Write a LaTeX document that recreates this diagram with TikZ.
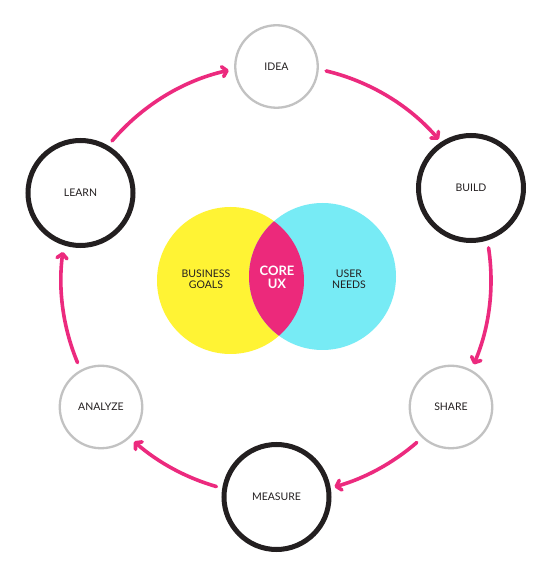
\documentclass[tikz,border=0pt]{standalone}
\usepackage{fontspec}
\setmainfont{Lato}
\usetikzlibrary{arrows.meta,calc}
\definecolor{ink}{HTML}{231F20}
\definecolor{ringgray}{HTML}{C2C2C2}
\definecolor{pinkarrow}{HTML}{EC2A7E}
\definecolor{venny}{HTML}{FFF334}
\definecolor{vennc}{HTML}{77EBF5}
\definecolor{vennm}{HTML}{EC297B}
\begin{document}
\begin{tikzpicture}[x=1pt,y=1pt,
  lightstep/.style={circle,draw=ringgray,line width=2.3pt,minimum size=82.5pt,inner sep=0pt,
    font=\fontsize{10.5}{12}\selectfont,text=ink},
  heavystep/.style={circle,draw=ink,line width=5pt,minimum size=105pt,inner sep=0pt,
    font=\fontsize{10.5}{12}\selectfont,text=ink},
  cyclearrow/.style={draw=pinkarrow,line width=3.6pt,line cap=round,
    -{Straight Barb[length=4.5pt,width=10pt,line cap=round,line join=round]}},
  venntext/.style={align=center,font=\fontsize{10.5}{11}\selectfont,text=ink},
  coretext/.style={align=center,font=\fontsize{13}{13}\selectfont\bfseries,text=white}
]
\useasboundingbox (0,0) rectangle (551,574);
\fill[white] (0,0) rectangle (551,574);

% Venn diagram
\coordinate (yc) at (230.5,293.5);
\coordinate (cc) at (322.5,297.5);
\fill[venny] (yc) circle[radius=73.5];
\fill[vennc] (cc) circle[radius=73.5];
\begin{scope}
  \clip (yc) circle[radius=73.5];
  \fill[vennm] (cc) circle[radius=73.5];
\end{scope}
\node[venntext] (goals) at (206,295) {BUSINESS\\GOALS};
\node[coretext] (core) at (277,297) {CORE\\UX};
\node[venntext] (needs) at (349,295) {USER\\NEEDS};

% Cycle nodes
\node[lightstep] (idea) at (276.5,507.5) {IDEA};
\node[heavystep] (build) at (471,386) {BUILD};
\node[lightstep] (share) at (451,167) {SHARE};
\node[heavystep] (measure) at (276.5,77) {MEASURE};
\node[lightstep] (analyze) at (101,167) {ANALYZE};
\node[heavystep] (learn) at (80.5,381) {LEARN};

% Arrows along a circle of radius 215 around the centre
\coordinate (ctr) at (276,294);
\coordinate (a1) at ($(ctr)+(139.7:215)$);
\coordinate (a2) at ($(ctr)+(76.5:215)$);
\coordinate (a3) at ($(ctr)+(8.6:215)$);
\coordinate (a4) at ($(ctr)+(-49.1:215)$);
\coordinate (a5) at ($(ctr)+(-106.1:215)$);
\coordinate (a6) at ($(ctr)+(-157.4:215)$);
\draw[cyclearrow] (a1) arc[start angle=139.7,end angle=102.7,radius=215];
\draw[cyclearrow] (a2) arc[start angle=76.5,end angle=40.8,radius=215];
\draw[cyclearrow] (a3) arc[start angle=8.6,end angle=-23.1,radius=215];
\draw[cyclearrow] (a4) arc[start angle=-49.1,end angle=-74.2,radius=215];
\draw[cyclearrow] (a5) arc[start angle=-106.1,end angle=-131.3,radius=215];
\draw[cyclearrow] (a6) arc[start angle=-157.4,end angle=-187.5,radius=215];
\end{tikzpicture}
\end{document}
